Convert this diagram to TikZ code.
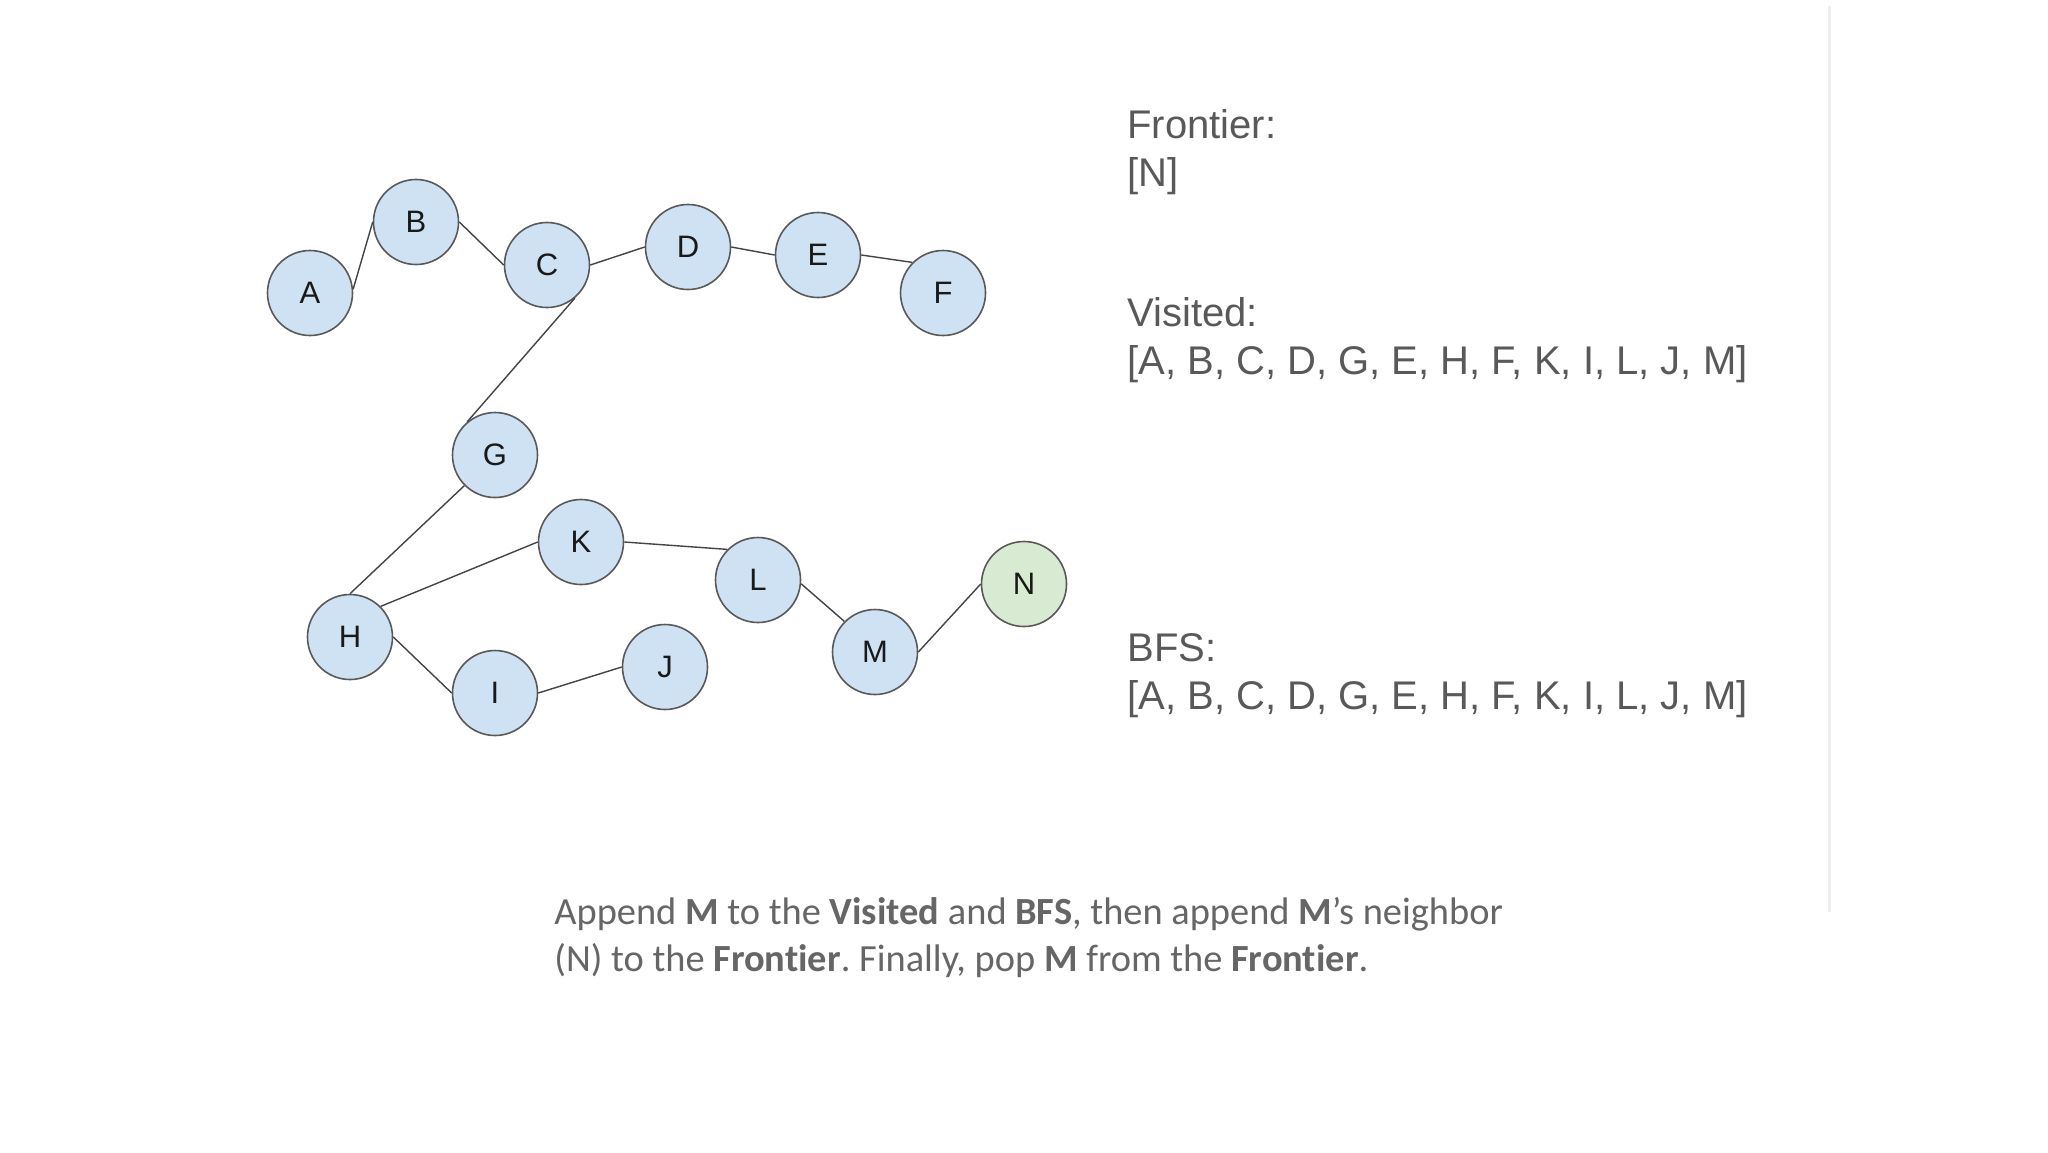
\documentclass[tikz,border=0pt]{standalone}
\usepackage{fontspec}
\setmainfont{Liberation Sans}
\newfontfamily\calfont[Ligatures={NoCommon}]{Carlito}
\definecolor{nodeblue}{HTML}{CFE2F3}
\definecolor{nodegreen}{HTML}{D9EAD3}
\definecolor{rimgray}{HTML}{595959}
\definecolor{txtgray}{HTML}{595959}
\definecolor{captgray}{HTML}{666666}
\definecolor{edgegray}{HTML}{444444}
\definecolor{rulegray}{HTML}{EEEEEE}
\tikzset{
  gnode/.style={circle, draw=rimgray, line width=0.8pt, fill=nodeblue, minimum size=42.5pt, inner sep=0pt, font=\fontsize{15.5}{18}\selectfont, text=black!90},
  gnodeN/.style={gnode, fill=nodegreen},
  gedge/.style={draw=edgegray, line width=0.7pt},
  rtext/.style={anchor=base west, inner sep=0pt, text=txtgray, font=\fontsize{20}{24}\selectfont},
  ctext/.style={anchor=base west, inner sep=0pt, text=captgray, font=\calfont\frenchspacing\fontsize{19.2}{23.5}\selectfont}
}
\begin{document}
\begin{tikzpicture}[x=0.5pt, y=-0.5pt]
\useasboundingbox[fill=white] (0,0) rectangle (2048,1152);
\draw[rulegray, line width=1.5pt] (1829,6) -- (1829,912);
% nodes
\node[gnode] (A) at (310,293) {A};
\node[gnode] (B) at (416,222) {B};
\node[gnode] (C) at (547,265) {C};
\node[gnode] (D) at (688,247) {D};
\node[gnode] (E) at (818,255) {E};
\node[gnode] (F) at (943,293) {F};
\node[gnode] (G) at (495,455) {G};
\node[gnode] (K) at (581,542) {K};
\node[gnode] (L) at (758,580) {L};
\node[gnodeN] (N) at (1024,584) {N};
\node[gnode] (H) at (350,637) {H};
\node[gnode] (M) at (875,652) {M};
\node[gnode] (I) at (495,693) {I};
\node[gnode] (J) at (665,667) {J};
% edges
\draw[gedge] (A.5) -- (B.west);
\draw[gedge] (B.east) -- (C.west);
\draw[gedge] (C.east) -- (D.west);
\draw[gedge] (D.east) -- (E.west);
\draw[gedge] (E.east) -- (F.135);
\draw[gedge] (C.-50) -- (G.130);
\draw[gedge] (G.225) -- (H.north);
\draw[gedge] (H.45) -- (K.west);
\draw[gedge] (K.east) -- (L.135);
\draw[gedge] (L.-5) -- (M.135);
\draw[gedge] (M.east) -- (N.west);
\draw[gedge] (H.east) -- (I.west);
\draw[gedge] (I.east) -- (J.west);
% right text
\node[rtext] (t1) at (1127,138) {Frontier:};
\node[rtext] (t2) at (1127,186) {[N]};
\node[rtext] (t3) at (1127,326) {Visited:};
\node[rtext] (t4) at (1127,374) {[A, B, C, D, G, E, H, F, K, I, L, J, M]};
\node[rtext] (t5) at (1127,661) {BFS:};
\node[rtext] (t6) at (1127,709) {[A, B, C, D, G, E, H, F, K, I, L, J, M]};
% caption
\node[ctext] (cap1) at (554,924) {Append \textbf{M} to the \textbf{Visited} and \textbf{BFS}, then append \textbf{M}’s neighbor};
\node[ctext] (cap2) at (554,971) {(N) to the \textbf{Frontier}. Finally, pop \textbf{M} from the \textbf{Frontier}.};
\end{tikzpicture}
\end{document}
